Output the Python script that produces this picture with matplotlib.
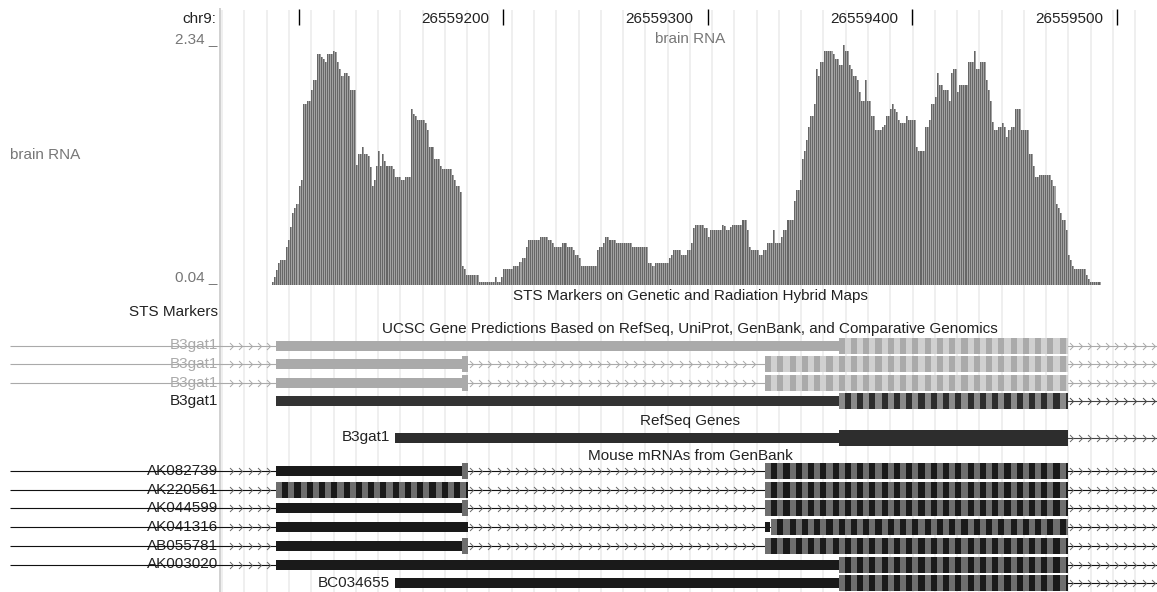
import matplotlib.pyplot as plt
import numpy as np

plt.rcParams['font.family'] = ['Liberation Sans', 'DejaVu Sans']

W, H = 1157, 592

# ruler
chrom_name = 'chr9:'
ruler_ticks = [26559100, 26559200, 26559300, 26559400, 26559500]
ruler_labels = ['', '26559200', '26559300', '26559400', '26559500']

# brain RNA signal, one value per base starting at cov_start
cov_start = 26559087
cov_min, cov_max = 0.04, 2.34
coverage = [
    0.06, 0.11, 0.18, 0.25, 0.28, 0.28, 0.28, 0.40, 0.47, 0.59,
    0.73, 0.77, 0.81, 0.99, 1.04, 1.77, 1.77, 1.80, 1.80, 1.91,
    2.00, 2.00, 2.25, 2.25, 2.22, 2.21, 2.18, 2.25, 2.25, 2.25,
    2.28, 2.27, 2.18, 2.11, 2.04, 2.07, 2.07, 2.04, 1.91, 1.91,
    1.91, 1.19, 1.29, 1.29, 1.36, 1.29, 1.29, 1.27, 1.17, 0.99,
    1.04, 1.18, 1.32, 1.18, 1.29, 1.23, 1.18, 1.18, 1.18, 1.15,
    1.07, 1.07, 1.07, 1.04, 1.04, 1.07, 1.07, 1.07, 1.73, 1.68,
    1.66, 1.62, 1.62, 1.62, 1.62, 1.59, 1.52, 1.36, 1.36, 1.25,
    # 436 px ->
    1.25, 1.25, 1.18, 1.15, 1.15, 1.15, 1.15, 1.15, 1.09, 1.04,
    0.99, 0.99, 0.93, 0.22, 0.19, 0.13, 0.13, 0.13, 0.13, 0.13,
    0.13, 0.06, 0.06, 0.06, 0.06, 0.06, 0.06, 0.06, 0.06, 0.11,
    0.06, 0.06, 0.11, 0.19, 0.19, 0.19, 0.19, 0.19, 0.22, 0.22,
    0.22, 0.26, 0.29, 0.29, 0.40, 0.47, 0.47, 0.47, 0.47, 0.47,
    0.47, 0.50, 0.50, 0.50, 0.50, 0.47, 0.47, 0.44, 0.40, 0.40,
    0.40, 0.40, 0.44, 0.44, 0.40, 0.40, 0.40, 0.37, 0.32, 0.32,
    0.29, 0.22, 0.22, 0.22, 0.22, 0.22, 0.22, 0.22, 0.22, 0.37,
    0.40, 0.40,
    # 604 px ->
    0.44, 0.50, 0.50, 0.47, 0.47, 0.47, 0.44, 0.44, 0.44, 0.44,
    0.44, 0.44, 0.44, 0.44, 0.40, 0.40, 0.40, 0.40, 0.40, 0.40,
    0.40, 0.40, 0.25, 0.25, 0.22, 0.25, 0.25, 0.25, 0.25, 0.25,
    0.25, 0.25, 0.29, 0.32, 0.37, 0.37, 0.37, 0.37, 0.32, 0.32,
    0.32, 0.37, 0.37, 0.44, 0.58, 0.61, 0.61, 0.61, 0.61, 0.58,
    0.58, 0.50, 0.56, 0.56, 0.56, 0.56, 0.56, 0.56, 0.61, 0.60,
    0.56, 0.56, 0.59, 0.61, 0.61, 0.61, 0.61, 0.61, 0.66, 0.66,
    0.56, 0.40, 0.37, 0.37, 0.37, 0.37, 0.32, 0.32, 0.37, 0.37,
    0.44,
    # 770 px ->
    0.44, 0.44, 0.56, 0.44, 0.44, 0.44, 0.50, 0.56, 0.56, 0.66,
    0.66, 0.66, 0.84, 0.95, 0.95, 1.04, 1.25, 1.32, 1.43, 1.55,
    1.66, 1.66, 1.77, 2.11, 2.04, 2.18, 2.18, 2.28, 2.28, 2.28,
    2.28, 2.25, 2.21, 2.21, 2.15, 2.15, 2.34, 2.28, 2.28, 2.15,
    2.11, 2.04, 2.04, 2.00, 1.89, 1.80, 1.80, 2.00, 1.80, 1.80,
    1.66, 1.66, 1.52, 1.52, 1.52, 1.55, 1.57, 1.66, 1.66, 1.73,
    1.77, 1.73, 1.70, 1.62, 1.59, 1.59, 1.59, 1.66, 1.62, 1.62,
    1.62, 1.62, 1.36, 1.32, 1.32, 1.32, 1.55, 1.55, 1.62, 1.77,
    1.77,
    # 936 px ->
    1.84, 2.07, 1.96, 1.96, 1.91, 1.91, 1.91, 1.80, 2.07, 2.11,
    2.11, 1.89, 1.96, 1.96, 1.96, 1.96, 2.18, 2.18, 2.18, 2.28,
    2.11, 2.11, 2.18, 2.18, 2.18, 2.00, 1.91, 1.80, 1.60, 1.52,
    1.52, 1.55, 1.55, 1.59, 1.55, 1.46, 1.52, 1.55, 1.55, 1.73,
    1.73, 1.73, 1.52, 1.52, 1.52, 1.52, 1.29, 1.29, 1.18, 1.07,
    1.07, 1.09, 1.09, 1.09, 1.09, 1.09, 1.09, 1.04, 0.99, 0.81,
    0.77, 0.73, 0.66, 0.66, 0.56, 0.32, 0.28, 0.22, 0.19, 0.19,
    0.19, 0.19, 0.19, 0.19, 0.13, 0.09, 0.06, 0.06, 0.06, 0.06,
    0.06,
]

# gene tracks
ucsc_names = ['B3gat1', 'B3gat1', 'B3gat1', 'B3gat1']
ucsc_utr = [
    [(26559089, 26559364)],
    [(26559089, 26559180)],
    [(26559089, 26559180)],
    [(26559089, 26559364)],
]
ucsc_cds = [
    [(26559364, 26559476)],
    [(26559180, 26559183), (26559328, 26559476)],
    [(26559180, 26559183), (26559328, 26559476)],
    [(26559364, 26559476)],
]
ucsc_left = [True, True, True, False]

refseq_names = ['B3gat1']
refseq_utr = [[(26559147, 26559364)]]
refseq_cds = [[(26559364, 26559476)]]

mrna_names = ['AK082739', 'AK220561', 'AK044599', 'AK041316',
              'AB055781', 'AK003020', 'BC034655']
mrna_utr = [
    [(26559089, 26559180)],
    [],
    [(26559089, 26559180)],
    [(26559089, 26559183), (26559328, 26559330.5)],
    [(26559089, 26559180)],
    [(26559089, 26559364)],
    [(26559147, 26559364)],
]
mrna_cds = [
    [(26559180, 26559183), (26559328, 26559476)],
    [(26559089, 26559183), (26559328, 26559476)],
    [(26559180, 26559183), (26559328, 26559476)],
    [(26559331, 26559476)],
    [(26559180, 26559183), (26559328, 26559476)],
    [(26559364, 26559476)],
    [(26559364, 26559476)],
]
mrna_left = [True, True, True, True, True, True, False]

# pixel <-> genome layout
PX_PER_BP = 2.046
G0, PX0 = 26559100, 298.5


def g(px):
    return G0 + (px - PX0) / PX_PER_BP


fig = plt.figure(figsize=(W / 100, H / 100), dpi=100)
ax = fig.add_axes([0, 0, 1, 1])
ax.set_xlim(g(0), g(W))
ax.set_ylim(H, 0)
ax.axis('off')

FS = 11
GRAY_TXT = '#777777'

# guide lines
guides = np.arange(g(222.2), g(W), 22.27 / PX_PER_BP)
ax.vlines(guides, 10, H, color='#ebebeb', lw=1.1, zorder=0)
ax.vlines(g(219.5), 8, H, color='#c8c8c8', lw=1.2, zorder=0)

# ruler
ax.text(g(216), 19, chrom_name, ha='right', va='center', fontsize=FS, color='#222')
ax.vlines(ruler_ticks, 9, 25, color='black', lw=1.0)
for t, lab in zip(ruler_ticks, ruler_labels):
    ax.text(t - 14 / PX_PER_BP, 19, lab, ha='right', va='center', fontsize=FS, color='#222')

# coverage track
ax.text(g(217), 39, '2.34 _', ha='right', va='center', fontsize=FS, color=GRAY_TXT)
ax.text(g(217), 277, '0.04 _', ha='right', va='center', fontsize=FS, color=GRAY_TXT)
ax.text(g(10), 155, 'brain RNA', ha='left', va='center', fontsize=FS, color=GRAY_TXT)
ax.text(g(690), 39, 'brain RNA', ha='center', va='center', fontsize=FS, color=GRAY_TXT)

hx = fig.add_axes([0, (H - 284.5) / H, 1, 239.5 / H])
hx.set_xlim(g(0), g(W))
hx.set_ylim(cov_min, cov_max)
hx.axis('off')
hx.patch.set_alpha(0)
pos = cov_start + np.arange(len(coverage))
hx.bar(pos, coverage, width=1.0, align='edge', color='#a2a2a2', linewidth=0)
hx.bar(pos, coverage, width=0.5, align='edge', color='#666666', linewidth=0)

# track titles
ax.text(g(690), 296, 'STS Markers on Genetic and Radiation Hybrid Maps',
        ha='center', va='center', fontsize=FS, color='#222')
ax.text(g(218), 312, 'STS Markers', ha='right', va='center', fontsize=FS, color='#222')
ax.text(g(690), 329, 'UCSC Gene Predictions Based on RefSeq, UniProt, GenBank, and Comparative Genomics',
        ha='center', va='center', fontsize=FS, color='#222')
ax.text(g(690), 421, 'RefSeq Genes', ha='center', va='center', fontsize=FS, color='#222')
ax.text(g(690), 456, 'Mouse mRNAs from GenBank', ha='center', va='center', fontsize=FS, color='#222')

chev = [(-1, 1), (0, 0), (-1, -1)]


def chevrons(a, b, y, color):
    xs = np.arange(a + 2.4, b - 0.8, 9.1 / PX_PER_BP)
    xs = xs[xs > g(228)]
    ax.plot(xs, np.full(len(xs), y), ls='none', marker=chev, ms=5,
            mec=color, mfc='none', mew=0.7, zorder=3)


def draw_gene(y, utr, cds, left, utr_col, stripe, line_col, chev_col):
    blocks = sorted(utr + cds)
    start = blocks[0][0]
    x0 = g(10) if left else start
    ax.hlines(y, x0, g(W), color=line_col, lw=0.8, zorder=2)
    # gaps with direction marks
    gaps = []
    if left:
        gaps.append((x0, start))
    cur = blocks[0][1]
    for s, e in blocks[1:]:
        if s - cur > 2:
            gaps.append((cur, s))
        cur = max(cur, e)
    gaps.append((cur, g(W)))
    for a, b in gaps:
        chevrons(a, b, y, chev_col)
    if utr:
        ax.broken_barh([(s, e - s) for s, e in utr], (y - 5, 10),
                       facecolor=utr_col, lw=0, zorder=4)
    for s, e in cds:
        starts = np.arange(s, e, 3)
        c1 = [(c, min(3, e - c)) for c in starts[0::2]]
        c2 = [(c, min(3, e - c)) for c in starts[1::2]]
        ax.broken_barh(c1, (y - 8, 16), facecolor=stripe[0], lw=0, zorder=4)
        if c2:
            ax.broken_barh(c2, (y - 8, 16), facecolor=stripe[1], lw=0, zorder=4)


# UCSC genes
ucsc_rows = [345.5, 364, 382.5, 401]
for i, y in enumerate(ucsc_rows):
    if i < 3:
        col, stripe, lc, tc = '#aaaaaa', ('#aaaaaa', '#d0d0d0'), '#aaaaaa', '#aaaaaa'
    else:
        col, stripe, lc, tc = '#333333', ('#8a8a8a', '#2d2d2d'), '#444444', '#222222'
    draw_gene(y, ucsc_utr[i], ucsc_cds[i], ucsc_left[i], col, stripe, lc, lc)
    ax.text(g(218), y, ucsc_names[i], ha='right', va='center', fontsize=FS, color=tc, zorder=1)

# RefSeq
draw_gene(437.5, refseq_utr[0], refseq_cds[0], False, '#2d2d2d',
          ('#2d2d2d', '#2d2d2d'), '#444444', '#666666')
ax.text(g(390), 437.5, refseq_names[0], ha='right', va='center', fontsize=FS, color='#222')

# mRNAs
mrna_rows = [471, 489.5, 508, 527, 545.5, 564.5, 583]
for i, y in enumerate(mrna_rows):
    draw_gene(y, mrna_utr[i], mrna_cds[i], mrna_left[i], '#1a1a1a',
              ('#6e6e6e', '#1a1a1a'), '#111111', '#666666')
    lx = g(218) if mrna_left[i] else g(390)
    ax.text(lx, y, mrna_names[i], ha='right', va='center', fontsize=FS, color='#222', zorder=1)

fig.savefig('out.png', dpi=100)
